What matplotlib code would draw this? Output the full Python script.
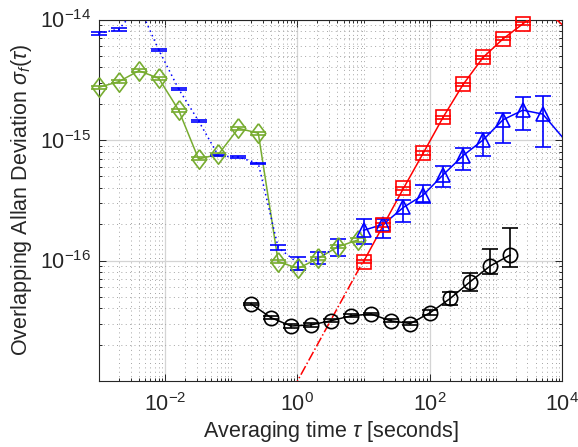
import numpy as np
import matplotlib
matplotlib.use("Agg")
import matplotlib.pyplot as plt
from matplotlib.ticker import FixedLocator, LogLocator, NullFormatter, LogFormatterSciNotation

# ---- data ----
# blue, short taus: dotted, error bars only
tau_blue_short  = [0.001, 0.002, 0.004, 0.008, 0.016, 0.032, 0.064, 0.128, 0.256, 0.512, 1.024, 2.048, 4.096]
adev_blue_short = [7.7e-15, 8.3e-15, 1.3e-14, 5.6e-15, 2.65e-15, 1.44e-15, 7.4e-16, 7.2e-16, 6.4e-16,
                   1.28e-16, 9.5e-17, 1.05e-16, 1.31e-16]
err_blue_short  = [2.3e-16, 2.5e-16, 3e-16, 1e-16, 4e-17, 2e-17, 1e-17, 1e-17, 1e-17,
                   6e-18, 1.1e-17, 1.2e-17, 2.1e-17]

# blue, long taus: triangles (asymmetric confidence intervals)
tau_blue_long    = [10, 20, 40, 80, 160, 320, 640, 1280, 2560, 5120, 10240]
adev_blue_long   = [1.78e-16, 2.0e-16, 2.76e-16, 3.5e-16, 5.15e-16, 7.43e-16, 1.0e-15, 1.47e-15, 1.77e-15, 1.64e-15, 1.05e-15]
errlo_blue_long  = [4.2e-17, 4.5e-17, 6.7e-17, 5.0e-17, 1.08e-16, 1.79e-16, 2.64e-16, 5.2e-16, 5.6e-16, 7.7e-16, 5e-16]
errhi_blue_long  = [4.1e-17, 2.0e-17, 4.2e-17, 7.4e-17, 9.3e-17, 1.15e-16, 1.4e-16, 2.15e-16, 4.9e-16, 6.8e-16, 5e-16]

# red squares
tau_red  = [10, 20, 40, 80, 160, 320, 640, 1280, 2560, 5120, 10240]
adev_red = [9.8e-17, 1.97e-16, 3.96e-16, 7.8e-16, 1.55e-15, 2.89e-15, 4.84e-15, 6.9e-15, 9.2e-15, 1.25e-14, 9.0e-15]
err_red  = [3e-18, 6e-18, 1.2e-17, 2.4e-17, 4.5e-17, 8e-17, 1.4e-16, 2e-16, 2.7e-16, 3.5e-16, 2.5e-16]

# red dash-dot reference line
tau_fit  = [0.5, 10]
adev_fit = [5e-18, 1e-16]

# green diamonds
tau_green  = [0.001, 0.002, 0.004, 0.008, 0.016, 0.032, 0.064, 0.128, 0.256, 0.512, 1.024, 2.048, 4.096, 8.192]
adev_green = [2.74e-15, 3.05e-15, 3.76e-15, 3.25e-15, 1.77e-15, 6.96e-16, 7.6e-16, 1.25e-15, 1.14e-15,
              9.8e-17, 8.6e-17, 1.04e-16, 1.3e-16, 1.48e-16]
err_green  = [9e-17, 1e-16, 1.2e-16, 1e-16, 5e-17, 2e-17, 2e-17, 3.5e-17, 3e-17,
              3e-18, 3e-18, 3e-18, 4e-18, 5e-18]

# black circles (asymmetric confidence intervals)
tau_black   = [0.2, 0.4, 0.8, 1.6, 3.2, 6.4, 12.8, 25.6, 51.2, 102.4, 204.8, 409.6, 819.2, 1638.4]
adev_black  = [4.35e-17, 3.35e-17, 2.86e-17, 2.92e-17, 3.16e-17, 3.47e-17, 3.6e-17, 3.16e-17, 3.0e-17,
               3.7e-17, 4.85e-17, 6.67e-17, 9.0e-17, 1.11e-16]
errlo_black = [1e-18, 1e-18, 1e-18, 1e-18, 1e-18, 1e-18, 1e-18, 1e-18, 1e-18,
               1.5e-18, 6e-18, 1.1e-17, 1.33e-17, 2.3e-17]
errhi_black = [1e-18, 1e-18, 1e-18, 1e-18, 1e-18, 1e-18, 1e-18, 1e-18, 1e-18,
               1.5e-18, 6.5e-18, 1.2e-17, 3.4e-17, 7.6e-17]

XLIM = (1e-3, 1e4)
YLIM = (1e-17, 1e-14)

plt.rcParams["font.family"] = ["Liberation Sans", "DejaVu Sans"]
plt.rcParams["mathtext.fontset"] = "custom"
plt.rcParams["mathtext.rm"] = "Liberation Sans"
plt.rcParams["mathtext.it"] = "Liberation Sans:italic"

fig = plt.figure(figsize=(5.78, 4.47), dpi=100)
ax = fig.add_axes([99 / 578, 1 - 381 / 447, (562 - 99) / 578, (381 - 19.5) / 447])
ax.set_xscale("log")
ax.set_yscale("log")


def draw(tau, adev, err, color, ls, marker, ms):
    tau = np.asarray(tau); adev = np.asarray(adev); err = np.asarray(err)
    ax.plot(tau, adev, color=color, ls=ls, lw=1.1, zorder=3)
    inside = (tau >= XLIM[0]) & (tau <= XLIM[1]) & (adev >= YLIM[0]) & (adev <= YLIM[1])
    yerr = err[..., inside]
    eb = ax.errorbar(tau[inside], adev[inside], yerr=yerr, fmt="none",
                     ecolor=color, elinewidth=1.2, capsize=5.6, capthick=1.2, zorder=4)
    for art in eb.get_children():
        art.set_clip_on(False)
    if marker is not None:
        ax.plot(tau[inside], adev[inside], ls="none", marker=marker, ms=ms, mfc="none",
                mec=color, mew=1.2, zorder=5, clip_on=False)


diamond = [(0, 1), (0.75, 0), (0, -1), (-0.75, 0), (0, 1)]
green = "#77ac30"

draw(tau_green, adev_green, err_green, green, "-", diamond, 14)
draw(tau_blue_short, adev_blue_short, err_blue_short, "blue", (0, (1, 2.2)), None, 0)
draw(tau_blue_long, adev_blue_long, [errlo_blue_long, errhi_blue_long], "blue", "-", "^", 10)
ax.plot(tau_fit, adev_fit, color="red", ls="-.", lw=1.1, zorder=3)
draw(tau_red, adev_red, err_red, "red", "-", "s", 9.5)
draw(tau_black, adev_black, [errlo_black, errhi_black], "black", "-", "o", 10.3)

ax.set_xlim(*XLIM)
ax.set_ylim(*YLIM)

ax.xaxis.set_major_locator(FixedLocator([1e-2, 1, 1e2, 1e4]))
ax.xaxis.set_major_formatter(LogFormatterSciNotation())
ax.xaxis.set_minor_locator(LogLocator(base=10, subs=np.arange(1, 10), numticks=100))
ax.xaxis.set_minor_formatter(NullFormatter())
ax.yaxis.set_major_locator(FixedLocator([1e-16, 1e-15, 1e-14]))
ax.yaxis.set_major_formatter(LogFormatterSciNotation())
ax.yaxis.set_minor_locator(LogLocator(base=10, subs=np.arange(1, 10), numticks=100))
ax.yaxis.set_minor_formatter(NullFormatter())

ax.set_axisbelow(True)
ax.grid(which="major", color="#d4d4d4", lw=0.9)
ax.grid(which="minor", color="#a5a5a5", ls=(0, (1, 3.5)), lw=0.7)

ax.tick_params(which="both", direction="in", top=True, right=True, color="#262626", width=0.7)
ax.tick_params(which="major", length=5, labelsize=15.5, pad=6, labelcolor="#262626")
ax.tick_params(axis="x", which="major", pad=9)
ax.tick_params(which="minor", length=2.5)
for sp in ax.spines.values():
    sp.set_color("#262626")
    sp.set_linewidth(0.8)

ax.set_xlabel(r"Averaging time $\tau$ [seconds]", fontsize=15.5, labelpad=2, color="#262626")
ax.set_ylabel(r"Overlapping Allan Deviation $\sigma_f(\tau)$", fontsize=15.5, labelpad=4, color="#262626")

fig.savefig("out.png", dpi=100)
